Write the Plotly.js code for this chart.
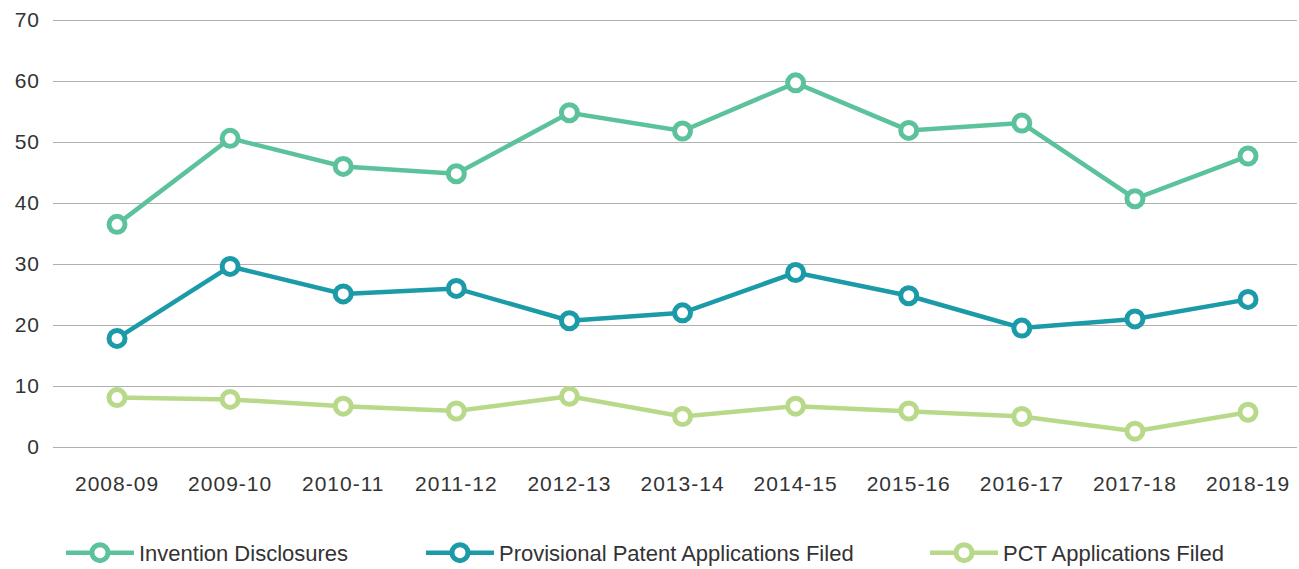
<!DOCTYPE html>
<html>
<head>
<meta charset="utf-8">
<script src="https://cdn.plot.ly/plotly-3.0.1.min.js"></script>
<style>
  html, body { margin: 0; padding: 0; background: #fff; }
  #chart { width: 1299px; height: 569px; }
  #chart .xtick text, #chart .ytick text { letter-spacing: 1px; }
</style>
</head>
<body>
<div id="chart"></div>
<script>
const years = ["2008-09","2009-10","2010-11","2011-12","2012-13","2013-14","2014-15","2015-16","2016-17","2017-18","2018-19"];
const inventionDisclosures = [36.5, 50.6, 46.0, 44.8, 54.8, 51.8, 59.7, 51.9, 53.1, 40.7, 47.7];
const provisionalFiled = [17.8, 29.6, 25.1, 26.0, 20.7, 22.0, 28.6, 24.8, 19.5, 21.0, 24.2];
const pctFiled = [8.1, 7.8, 6.7, 5.9, 8.3, 5.0, 6.7, 5.9, 5.0, 2.6, 5.7];
const yTicks = [0, 10, 20, 30, 40, 50, 60, 70];

const seriesNames = ["Invention Disclosures", "Provisional Patent Applications Filed", "PCT Applications Filed"];
const seriesColors = ["#5cc29c", "#1b9aa8", "#b8d98a"];
const seriesValues = [inventionDisclosures, provisionalFiled, pctFiled];
const legendIds = ["legend", "legend2", "legend3"];
const legendX = [0.0064, 0.2958, 0.701];

const traces = seriesValues.map((vals, i) => ({
  type: "scatter",
  mode: "lines+markers",
  name: seriesNames[i],
  legend: legendIds[i],
  x: years,
  y: vals,
  line: { color: seriesColors[i], width: 4.5 },
  marker: { symbol: "circle", size: 16, color: "#ffffff", line: { color: seriesColors[i], width: 5 } },
  hoverinfo: "x+y+name"
}));

const layout = {
  width: 1299,
  height: 569,
  margin: { l: 53, r: 2, t: 14, b: 119, autoexpand: false },
  paper_bgcolor: "#ffffff",
  plot_bgcolor: "#ffffff",
  font: { family: "Liberation Sans, Arial, sans-serif", size: 21, color: "#333333" },
  showlegend: true,
  xaxis: {
    type: "category",
    range: [-0.566, 10.433],
    showgrid: false,
    zeroline: false,
    showline: false,
    ticks: "",
    ticklabelstandoff: 19,
    fixedrange: true
  },
  yaxis: {
    range: [-0.492, 70.984],
    tickvals: yTicks,
    ticktext: yTicks.map(String),
    showgrid: true,
    gridcolor: "#b0b0b0",
    gridwidth: 1,
    zeroline: true,
    zerolinecolor: "#b0b0b0",
    zerolinewidth: 1,
    showline: false,
    ticks: "",
    ticklabelstandoff: 12,
    tickfont: { size: 21 },
    fixedrange: true
  }
};

legendIds.forEach((id, i) => {
  layout[id] = {
    orientation: "h",
    x: legendX[i],
    xanchor: "left",
    y: -0.236,
    yanchor: "middle",
    font: { size: 22, color: "#333333" },
    itemwidth: 68,
    bgcolor: "rgba(0,0,0,0)"
  };
});

Plotly.newPlot("chart", traces, layout, { displayModeBar: false, responsive: false });
</script>
</body>
</html>
